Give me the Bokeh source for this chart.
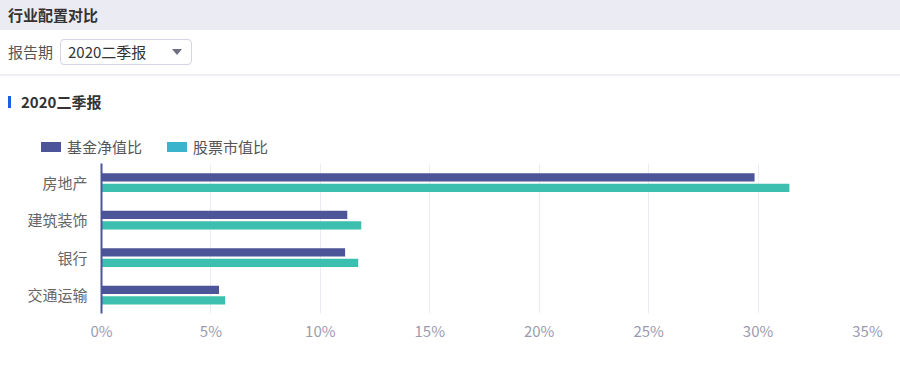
from bokeh.plotting import figure
from bokeh.models import ColumnDataSource, Range1d, FactorRange, FixedTicker, Div
from bokeh.layouts import column
from bokeh.transform import dodge
from bokeh.embed import file_html
from bokeh.resources import INLINE

# ---- data ----
categories = ["房地产", "建筑装饰", "银行", "交通运输"]
fund_nav_ratio = [29.84, 11.23, 11.13, 5.37]      # 基金净值比 (%)
stock_mv_ratio = [31.43, 11.87, 11.73, 5.65]      # 股票市值比 (%)
x_ticks = [0, 5, 10, 15, 20, 25, 30, 35]
x_tick_labels = ["0%", "5%", "10%", "15%", "20%", "25%", "30%", "35%"]
series_names = ["基金净值比", "股票市值比"]
page_title = "行业配置对比"
period_label = "报告期"
period_value = "2020二季报"

FONT = "'Noto Sans CJK SC', 'Noto Sans', sans-serif"
W = 900
HDR_H = 160
PURPLE = "#4c5597"
TEAL = "#3cbfae"
LEGEND_COLORS = [PURPLE, "#3ab4cd"]

txt = "position:absolute;line-height:16px;font-size:15px;white-space:nowrap;"
header_html = f"""
<div style="position:relative;width:{W}px;height:{HDR_H}px;overflow:hidden;font-family:{FONT};">
  <div style="position:absolute;left:0;top:0;width:{W}px;height:30px;background:#ebebf4;"></div>
  <div style="{txt}left:8px;top:7px;font-weight:bold;color:#333;">{page_title}</div>
  <div style="{txt}left:8px;top:44px;color:#555;">{period_label}</div>
  <div style="position:absolute;left:60px;top:39px;width:130px;height:24px;border:1px solid #d3d4e6;border-radius:4px;box-sizing:content-box;"></div>
  <div style="{txt}left:68px;top:44px;color:#333;">{period_value}</div>
  <div style="position:absolute;left:172px;top:49px;width:0;height:0;border-left:5px solid transparent;border-right:5px solid transparent;border-top:6px solid #6e6e84;"></div>
  <div style="position:absolute;left:0;top:74px;width:{W}px;height:2px;background:#efeff6;"></div>
  <div style="position:absolute;left:8px;top:96px;width:3px;height:12px;background:#1a5fe6;"></div>
  <div style="{txt}left:21px;top:94px;font-weight:bold;color:#333;">{period_value}</div>
  <div style="position:absolute;left:41px;top:142px;width:20px;height:10px;background:{LEGEND_COLORS[0]};"></div>
  <div style="{txt}left:67px;top:139px;color:#555;">{series_names[0]}</div>
  <div style="position:absolute;left:167px;top:142px;width:20px;height:10px;background:{LEGEND_COLORS[1]};"></div>
  <div style="{txt}left:193px;top:139px;color:#555;">{series_names[1]}</div>
</div>
"""
header = Div(text=header_html, width=W, height=HDR_H, margin=(0, 0, 0, 0))

source = ColumnDataSource(dict(cat=categories, fund=fund_nav_ratio, stock=stock_mv_ratio))

p = figure(width=W, height=202, output_backend="svg", toolbar_location=None,
           x_range=Range1d(0, 35),
           y_range=FactorRange(factors=list(reversed(categories)), range_padding=0),
           min_border_left=101, min_border_right=33, min_border_top=3, min_border_bottom=49,
           tools="")
p.outline_line_color = None
p.background_fill_color = "white"
p.border_fill_color = "white"

p.hbar(y=dodge("cat", 0.13, range=p.y_range), left=0, right="fund", height=0.22,
       source=source, fill_color=PURPLE, line_color=None)
p.hbar(y=dodge("cat", -0.15, range=p.y_range), left=0, right="stock", height=0.22,
       source=source, fill_color=TEAL, line_color=None)

p.xaxis.ticker = FixedTicker(ticks=x_ticks)
p.xaxis.major_label_overrides = {t: l for t, l in zip(x_ticks, x_tick_labels)}
p.xaxis.axis_line_color = None
p.xaxis.major_tick_line_color = None
p.xaxis.minor_tick_line_color = None
p.xaxis.major_label_text_font = "Noto Sans CJK SC"
p.xaxis.major_label_text_font_size = "15px"
p.xaxis.major_label_text_color = "#9b9bb0"
p.xaxis.major_label_standoff = 0

p.yaxis.axis_line_color = PURPLE
p.yaxis.axis_line_width = 2
p.yaxis.major_tick_line_color = None
p.yaxis.minor_tick_line_color = None
p.yaxis.major_label_text_font = "Noto Sans CJK SC"
p.yaxis.major_label_text_font_size = "15px"
p.yaxis.major_label_text_color = "#666666"
p.yaxis.major_label_standoff = 8

p.xgrid.grid_line_color = "#ebebf3"
p.xgrid.grid_line_width = 1
p.ygrid.grid_line_color = None

layout = column(header, p, spacing=0)
open("out.html", "w").write(file_html(layout, INLINE))
